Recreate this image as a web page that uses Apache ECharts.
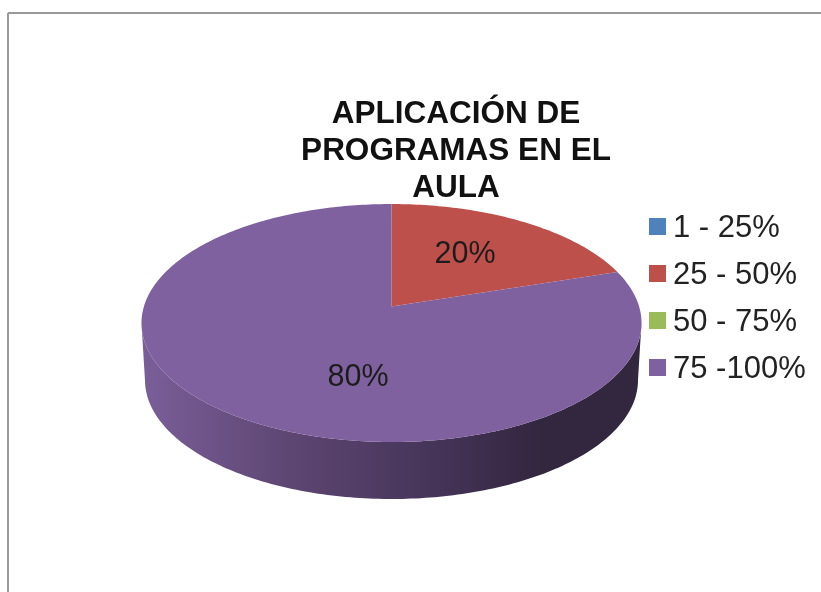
<!DOCTYPE html>
<html>
<head>
<meta charset="utf-8">
<title>Aplicación de programas en el aula</title>
<script src="https://cdn.jsdelivr.net/npm/echarts@6/dist/echarts.min.js"></script>
<style>
  html, body { margin: 0; padding: 0; background: #fff; }
  #chart { width: 821px; height: 592px; }
</style>
</head>
<body>
<div id="chart"></div>
<script>
const titleText = 'APLICACIÓN DE\nPROGRAMAS EN EL\nAULA';
const categories = ['1 - 25%', '25 - 50%', '50 - 75%', '75 -100%'];
const values = [0, 20, 0, 80];
const colors = ['#4F81BD', '#BE504C', '#9BBB59', '#7F619F'];

// tilted disc: the circle goes through a perspective map so the hub sits above the ellipse centre
const CX = 391.5, HUB_Y = 306.5, A = 247.6, B = 116.7, E = 0.1387;
const DEPTH = 57, BOTTOM_SHRINK = 0.986;
// Excel moved the data labels by hand, so they do not follow the slice centre
const labelSpots = { 1: [465, 255], 3: [358, 378] };

const total = values.reduce((a, b) => a + b, 0);

function project(angle, r) {
    const u = Math.sin(angle) * r, v = Math.cos(angle) * r;
    const d = 1 + E * v;
    return [CX + A * u / d, HUB_Y - B * v / d];
}

function sliceAngles(idx) {
    let before = 0;
    for (let i = 0; i < idx; i++) before += values[i];
    return [before / total * Math.PI * 2, (before + values[idx]) / total * Math.PI * 2];
}

function renderSlice(idx, api) {
    const val = api.value(0);
    if (!val) return null;
    const [start, end] = sliceAngles(idx);
    const arc = [];
    const steps = Math.max(8, Math.round((end - start) * 60));
    for (let i = 0; i <= steps; i++) {
        arc.push(project(start + (end - start) * i / steps, 1));
    }
    const children = [];

    // side wall, only the part of the rim facing the viewer
    const front = arc.filter(p => p[1] >= 322);
    if (front.length > 1) {
        const lower = front.slice().reverse().map(p => [CX + (p[0] - CX) * BOTTOM_SHRINK, p[1] + DEPTH]);
        children.push({
            type: 'polygon',
            shape: { points: front.concat(lower) },
            style: {
                fill: new echarts.graphic.LinearGradient(0, 0, 1, 0, [
                    { offset: 0, color: '#7A5E99' },
                    { offset: 0.3, color: '#5D4672' },
                    { offset: 0.6, color: '#443357' },
                    { offset: 0.8, color: '#33263F' },
                    { offset: 1, color: '#33263F' }
                ])
            }
        });
    }

    children.push({
        type: 'polygon',
        shape: { points: [[CX, HUB_Y]].concat(arc) },
        style: { fill: colors[idx] }
    });

    const spot = labelSpots[idx];
    children.push({
        type: 'text',
        style: {
            text: val + '%',
            x: spot[0],
            y: spot[1],
            align: 'center',
            verticalAlign: 'middle',
            fill: '#1c1c1c',
            font: '30.5px "Liberation Sans", Arial, sans-serif'
        }
    });
    return { type: 'group', children: children };
}

const chart = echarts.init(document.getElementById('chart'), null, { renderer: 'canvas' });
chart.setOption({
    animation: false,
    backgroundColor: '#ffffff',
    title: {
        text: titleText,
        left: 451,
        top: 91,
        textAlign: 'center',
        textStyle: {
            fontFamily: '"Liberation Sans", Arial, sans-serif',
            fontSize: 31.5,
            fontWeight: 'bold',
            lineHeight: 37,
            color: '#111111'
        }
    },
    legend: {
        data: categories,
        orient: 'vertical',
        left: 644,
        top: 208,
        icon: 'rect',
        itemWidth: 17,
        itemHeight: 17,
        itemGap: 16,
        selectedMode: false,
        formatter: '{t|{name}}',
        textStyle: {
            rich: {
                t: {
                    fontFamily: '"Liberation Sans", Arial, sans-serif',
                    fontSize: 31,
                    padding: [4, 0, 0, 2],
                    color: '#222222'
                }
            }
        }
    },
    graphic: [
        { type: 'line', shape: { x1: 8, y1: 13, x2: 8, y2: 592 }, style: { stroke: '#999999', lineWidth: 2 } },
        { type: 'line', shape: { x1: 8, y1: 13, x2: 821, y2: 13 }, style: { stroke: '#999999', lineWidth: 2 } }
    ],
    series: categories.map((name, idx) => ({
        type: 'custom',
        name: name,
        coordinateSystem: 'none',
        itemStyle: { color: colors[idx] },
        data: [[values[idx]]],
        renderItem: (params, api) => renderSlice(idx, api)
    }))
});
</script>
</body>
</html>
